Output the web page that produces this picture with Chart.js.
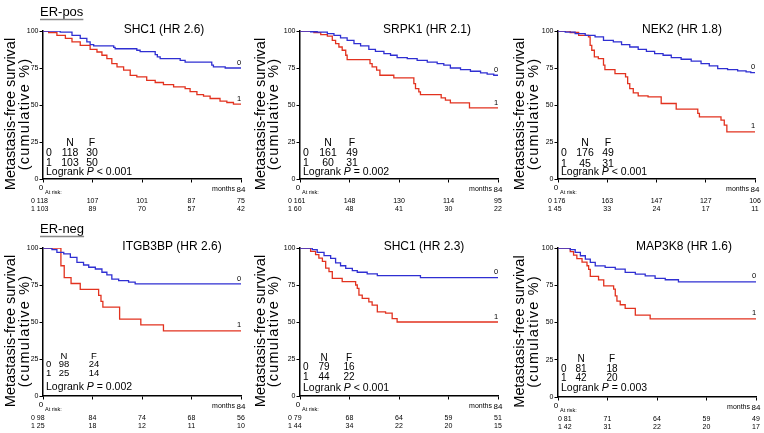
<!DOCTYPE html>
<html>
<head>
<meta charset="utf-8">
<script src="https://cdn.jsdelivr.net/npm/chart.js@4.4.0/dist/chart.umd.min.js"></script>
<style>
  html, body { margin: 0; padding: 0; background: #fff; }
  #wrap { position: relative; width: 764px; height: 433px; overflow: hidden; }
  #wrap canvas { position: absolute; left: 0; top: 0; }
</style>
</head>
<body>
<div id="wrap"></div>
<script>
  // time points of the at-risk table (months)
  const riskTimes = [0, 21, 42, 63, 84];

  // ER-pos, SHC1  [month, % metastasis-free]
  const shc1Pos0 = [[0,100],[7.3,99.3],[12.3,97],[15.8,95],[18.6,92.6],[20,90.8],[21.5,90],[30,89],[30.6,88],[39.8,87],[41.2,86],[47.6,84],[48.5,82.5],[49.7,81.3],[58.2,80.2],[60.3,79],[71.6,77],[72.3,75.7],[77.3,75],[84,75]];
  const shc1Pos1 = [[0,100],[2.4,99],[5.9,97],[9.5,95],[12.3,92.6],[15.8,90.3],[20,87.6],[22.9,85.8],[25,83.6],[27.1,81.3],[29.2,78],[31.4,75.7],[34.2,73.5],[37,70],[39.8,69],[44,66.7],[47.6,65.2],[51.1,63.8],[55.4,62.2],[60.3,61],[62.4,59],[65.3,57],[68.1,56],[70.9,54.4],[75.1,52.6],[78,51.7],[80.8,50.6],[84,50.5]];
  // ER-pos, SRPK1
  const srpk1Pos0 = [[0,100],[4.5,99.5],[7.3,99.3],[11.6,98.2],[14.4,97],[17.2,95.3],[20,93.7],[22.9,91.5],[25.7,89.9],[29.2,87.6],[32,86.3],[35.6,84.7],[38.4,83.6],[41.2,82],[45.5,81.3],[49.7,80.2],[54,79],[58.2,78],[61,76.9],[63.8,75],[68.1,73.9],[72.3,72.8],[76.6,71.7],[79.4,70.8],[82.2,70.1],[84,70.1]];
  const srpk1Pos1 = [[0,100],[5.9,98.9],[8.8,97.5],[11.6,96.6],[13.7,93.7],[15.1,91.5],[16.5,89.2],[17.9,87],[19.4,83.6],[20,80.7],[29.7,78],[30.6,75.7],[32.5,73.5],[33.9,70.1],[39.8,68.3],[48.3,64.5],[49,61],[50.4,58.9],[51.1,57],[59.9,54.8],[61.7,53.3],[63.8,51.5],[71.9,48],[84,48]];
  // ER-pos, NEK2
  const nek2Pos0 = [[0,100],[3.1,99.3],[7.3,98.2],[11.6,97],[15.8,96],[19.4,93.7],[23.6,92.6],[27.1,90.8],[30.6,89.2],[34.2,87.6],[37.7,86.3],[41.2,84.7],[44.8,83.6],[48.3,82],[52.5,80.9],[56.8,79.6],[61,78],[64.5,76.4],[68.1,74.6],[72.3,73.9],[76.6,73],[80.2,72.4],[82.2,71.9],[84,71.9]];
  const nek2Pos1 = [[0,100],[5.2,99],[8.8,97],[13,96],[13.7,90.3],[14.4,87],[15.5,82.5],[17.2,81.3],[19.4,76.9],[20,73.9],[24.3,71.2],[28.8,69],[29.7,64.5],[30.6,61],[32.1,58.2],[34.2,56.2],[38.4,55.5],[44,51],[50.4,47.2],[59.6,44.3],[60.3,42],[69.5,39.8],[70.9,36.4],[72,31.9],[84,31.9]];
  // ER-neg, ITGB3BP
  const itgbNeg0 = [[0,100],[3.8,98.9],[5.9,97],[8.8,96],[11.6,93.7],[14.4,90.3],[17.2,88.5],[19.4,87],[22.2,85.8],[25,83.6],[27.1,81.8],[29.2,79],[32.1,78],[36.3,76.9],[39.1,75.7],[84,75.7]];
  const itgbNeg1 = [[0,100],[7.6,88],[9,80],[11.9,76],[15.8,72],[23.6,68],[24.6,64],[25.4,60],[32.5,52],[41.5,48],[51.1,44],[84,44]];
  // ER-neg, SHC1
  const shc1Neg0 = [[0,100],[5.2,98.9],[7.3,97],[10.2,94.8],[13,93],[15.1,90],[17.2,88],[19.4,86.3],[22.2,84.7],[24.3,83.6],[28.5,82.5],[32.8,81.3],[51.1,80],[84,80]];
  const shc1Neg1 = [[0,100],[4.5,97.7],[6.6,95.5],[8,93.2],[9.5,90.9],[10.9,86.4],[12.3,84.1],[13.7,79.5],[17.9,77.3],[23.6,75],[24.3,72.7],[25,68.2],[26.4,65.9],[29.2,63.6],[30.6,61.4],[32.8,56.8],[36.3,56],[39.1,52.3],[41.2,50],[84,50]];
  // ER-neg, MAP3K8
  const map3k8Neg0 = [[0,100],[5.2,98.9],[7.3,97],[9.5,94.8],[11.6,92.6],[13.7,90.3],[15.8,88],[20,87],[24.3,85.8],[28.5,83.6],[32.8,82.5],[37,81.3],[41.2,79.6],[45.5,78.7],[51.1,77.3],[84,77.3]];
  const map3k8Neg1 = [[0,100],[5.2,97.6],[6.6,95.2],[8,92.9],[10.2,90.5],[12.3,88.1],[13,85.7],[13.7,81],[17.2,78.6],[19.4,74.6],[23.6,72.4],[24.3,67.9],[25,64.3],[26.4,61.9],[28.5,59.5],[32.8,55],[39.1,52.4],[84,52.4]];

  // at risk, group 0 / group 1
  const risk0 = [[118,107,101,87,75],[161,148,130,114,95],[176,163,147,127,106],[98,84,74,68,56],[79,68,64,59,51],[81,71,64,59,49]];
  const risk1 = [[103,89,70,57,42],[60,48,41,30,22],[45,33,24,17,11],[25,18,12,11,10],[44,34,22,20,15],[42,31,22,20,17]];

  const titles = ['SHC1 (HR 2.6)', 'SRPK1 (HR 2.1)', 'NEK2 (HR 1.8)', 'ITGB3BP (HR 2.6)', 'SHC1 (HR 2.3)', 'MAP3K8 (HR 1.6)'];
  const groupLabels = ['ER-pos', '', '', 'ER-neg', '', ''];
  const nCounts = [[118,103],[161,60],[176,45],[98,25],[79,44],[81,42]];
  const fCounts = [[30,50],[49,31],[49,31],[24,14],[16,22],[18,20]];
  const pTexts = ['< 0.001', '= 0.002', '< 0.001', '= 0.002', '< 0.001', '= 0.003'];

  const curves0 = [shc1Pos0, srpk1Pos0, nek2Pos0, itgbNeg0, shc1Neg0, map3k8Neg0];
  const curves1 = [shc1Pos1, srpk1Pos1, nek2Pos1, itgbNeg1, shc1Neg1, map3k8Neg1];

  const FONT = '"Liberation Sans", Arial, Helvetica, sans-serif';
  const BLUE = '#2f2fd2';
  const RED = '#e2321f';
  const W = 764, H = 433;
  const YAXIS_W = 20; // room kept for the y tick labels

  // panel geometry on the page
  const boxes = [
    {l: 43,  r: 241, t: 31,  b: 179, tx: 164, yl: [11, 24.5],  nx: 27, fx: 49, fs: 10.5, rows: [-36, -26, -16, -7],   rx: -12},
    {l: 300, r: 498, t: 31,  b: 179, tx: 427, yl: [261, 274], nx: 28, fx: 52, fs: 10.5, rows: [-36, -26, -16, -7],   rx: -12},
    {l: 558, r: 755, t: 31,  b: 179, tx: 682, yl: [520, 534], nx: 27, fx: 50, fs: 10.5, rows: [-36, -26, -15, -7],   rx: -10},
    {l: 43,  r: 241, t: 248, b: 396, tx: 172, yl: [11, 24.5],  nx: 21, fx: 51, fs: 9.5,  rows: [-40, -31.5, -23, -9], rx: -12},
    {l: 300, r: 498, t: 248, b: 396, tx: 424, yl: [261, 274], nx: 24, fx: 49, fs: 10,   rows: [-38, -28.5, -18.5, -8], rx: -12},
    {l: 558, r: 756, t: 248, b: 397, tx: 684, yl: [520, 534], nx: 23, fx: 54, fs: 10,   rows: [-38, -28, -18.5, -9], rx: 0}
  ];

  function panelText(i) {
    return {
      id: 'panelText' + i,
      afterDraw(chart) {
        const ctx = chart.ctx;
        const bx = boxes[i];
        const xs = chart.scales.x, ys = chart.scales.y;
        const {left, right, top, bottom} = chart.chartArea;
        ctx.save();
        ctx.fillStyle = '#000';
        ctx.textBaseline = 'middle';

        // group label with underline
        if (groupLabels[i]) {
          ctx.font = '13px ' + FONT;
          ctx.textAlign = 'left';
          const gy = top - 19;
          ctx.fillText(groupLabels[i], 40, gy);
          const gw = ctx.measureText(groupLabels[i]).width;
          ctx.strokeStyle = '#888';
          ctx.lineWidth = 1.5;
          ctx.beginPath();
          ctx.moveTo(40, gy + 7.5);
          ctx.lineTo(40 + gw, gy + 7.5);
          ctx.stroke();
        }

        // title
        ctx.font = '12px ' + FONT;
        ctx.textAlign = 'center';
        ctx.fillText(titles[i], bx.tx, top - 1);

        // y axis title
        const cy = (top + bottom) / 2 + 9;
        ctx.font = '14.5px ' + FONT;
        ['Metastasis-free survival', '(cumulative %)'].forEach((s, k) => {
          ctx.save();
          ctx.translate(bx.yl[k], cy);
          ctx.rotate(-Math.PI / 2);
          ctx.letterSpacing = k === 1 ? '1.2px' : '0px';
          ctx.fillText(s, 0, 0);
          ctx.restore();
        });

        // N / F table
        const f = bx.fs + 'px ' + FONT;
        ctx.font = f;
        ctx.textAlign = 'center';
        ctx.fillText('N', left + bx.nx, bottom + bx.rows[0]);
        ctx.fillText('F', left + bx.fx, bottom + bx.rows[0]);
        for (let g = 0; g < 2; g++) {
          const y = bottom + bx.rows[g + 1];
          ctx.textAlign = 'left';
          ctx.fillText(String(g), left + 3, y);
          ctx.textAlign = 'center';
          ctx.fillText(String(nCounts[i][g]), left + bx.nx, y);
          ctx.fillText(String(fCounts[i][g]), left + bx.fx, y);
        }
        ctx.textAlign = 'left';
        ctx.font = '10.5px ' + FONT;
        let lx = left + 3;
        const ly = bottom + bx.rows[3];
        ctx.fillText('Logrank ', lx, ly);
        lx += ctx.measureText('Logrank ').width;
        ctx.font = 'italic 10.5px ' + FONT;
        ctx.fillText('P', lx, ly);
        lx += ctx.measureText('P').width;
        ctx.font = '10.5px ' + FONT;
        ctx.fillText(' ' + pTexts[i], lx, ly);

        // curve end labels
        ctx.font = '7.5px ' + FONT;
        ctx.textAlign = 'center';
        [curves0[i], curves1[i]].forEach((c, g) => {
          const last = c[c.length - 1];
          ctx.fillText(String(g), right - 2, ys.getPixelForValue(last[1]) - 5.5);
        });

        // below the x axis
        ctx.font = '8px ' + FONT;
        ctx.fillText('0', left - 2, bottom + 8.5);
        ctx.fillText('84', right, bottom + 10.5);
        ctx.font = '7px ' + FONT;
        ctx.textAlign = 'right';
        ctx.fillText('months', right - 6, bottom + 10.5);
        ctx.font = '5.5px ' + FONT;
        ctx.textAlign = 'left';
        ctx.fillText('At risk:', left + 2, bottom + 13.5);

        // at-risk table
        ctx.font = '7px ' + FONT;
        [risk0[i], risk1[i]].forEach((row, g) => {
          const y = bottom + (g === 0 ? 22 : 30.5);
          row.forEach((v, k) => {
            if (k === 0) {
              ctx.textAlign = 'left';
              ctx.fillText(g + ' ' + v, left + bx.rx, y);
            } else {
              ctx.textAlign = 'center';
              ctx.fillText(String(v), xs.getPixelForValue(riskTimes[k]), y);
            }
          });
        });
        ctx.restore();
      }
    };
  }

  const wrap = document.getElementById('wrap');

  boxes.forEach((bx, i) => {
    const canvas = document.createElement('canvas');
    canvas.width = W;
    canvas.height = H;
    wrap.appendChild(canvas);

    const axisGrid = {drawOnChartArea: false, drawTicks: true, tickLength: 3.5, color: '#000', lineWidth: 1};
    const axisBorder = {display: true, color: '#000', width: 1.5};

    new Chart(canvas.getContext('2d'), {
      type: 'line',
      data: {
        datasets: [
          {
            label: '0',
            data: curves0[i].map(p => ({x: p[0], y: p[1]})),
            borderColor: BLUE,
            borderWidth: 1.3,
            pointRadius: 0,
            stepped: true,
            fill: false
          },
          {
            label: '1',
            data: curves1[i].map(p => ({x: p[0], y: p[1]})),
            borderColor: RED,
            borderWidth: 1.3,
            pointRadius: 0,
            stepped: true,
            fill: false
          }
        ]
      },
      options: {
        responsive: false,
        animation: false,
        devicePixelRatio: 1,
        events: [],
        layout: {padding: {left: bx.l - YAXIS_W, right: W - bx.r, top: bx.t, bottom: H - bx.b}},
        plugins: {legend: {display: false}, tooltip: {enabled: false}},
        scales: {
          x: {
            type: 'linear',
            min: 0,
            max: 84,
            ticks: {display: false, stepSize: 21},
            grid: axisGrid,
            border: axisBorder,
            afterFit: s => { s.height = 0; }
          },
          y: {
            min: 0,
            max: 100,
            ticks: {stepSize: 25, padding: 1, color: '#000', font: {size: 7, family: FONT}},
            grid: axisGrid,
            border: axisBorder,
            afterFit: s => { s.width = YAXIS_W; }
          }
        }
      },
      plugins: [panelText(i)]
    });
  });
</script>
</body>
</html>
